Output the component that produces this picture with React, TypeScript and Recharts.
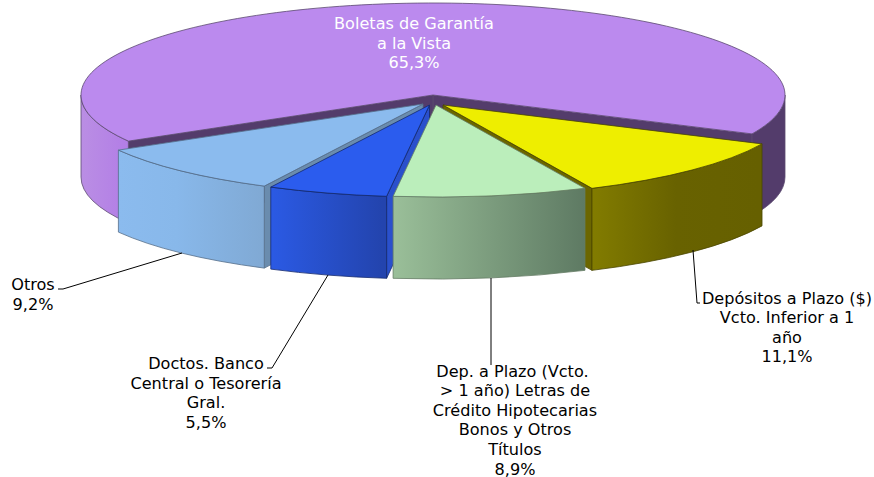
import { Pie, PieChart } from "recharts";

const CATEGORIES = [
  "Boletas de Garantía a la Vista",
  "Otros",
  "Doctos. Banco Central o Tesorería Gral.",
  "Dep. a Plazo (Vcto. > 1 año) Letras de Crédito Hipotecarias Bonos y Otros Títulos",
  "Depósitos a Plazo ($) Vcto. Inferior a 1 año",
];
const VALUES = [65.3, 9.2, 5.5, 8.9, 11.1];
const LABEL_LINES = [
  ["Boletas de Garantía", "a la Vista"],
  ["Otros"],
  ["Doctos. Banco", "Central o Tesorería", "Gral."],
  ["Dep. a Plazo (Vcto. ", "> 1 año) Letras de", "Crédito Hipotecarias", "Bonos y Otros", "Títulos"],
  ["Depósitos a Plazo ($)", "Vcto. Inferior a 1", "año"],
];

const pieData = CATEGORIES.map((name, i) => ({ name, value: VALUES[i], index: i }));

// look of each slice, same order as CATEGORIES
const TOP = ["#BB8AEE", "#8BBBEE", "#2B5CEE", "#BBEEBB", "#EEEE00"];
const INNER = ["#533C6B", "#6A8CAE", "#2A50CC", "#6E8C6E", "#6B6600"];
const EDGE = ["#5C4A70", "#566F8A", "#14296E", "#647C64", "#4A4600"];
const OUTER_STOPS = [
  [["0", "#BA8EE4"], ["0.06", "#B37FE6"], ["0.9", "#533C6B"], ["1", "#533C6B"]],
  [["0", "#8BBBEE"], ["0.4", "#88B8EA"], ["1", "#80A9D4"]],
  [["0", "#2B5AE4"], ["1", "#2344AE"]],
  [["0", "#9ABF99"], ["1", "#5E7A63"]],
  [["0", "#827C00"], ["0.5", "#686200"], ["1", "#666000"]],
];
const SHIFT = [[0, 0], [-10, 9], [-3.5, 10], [3, 10], [10, 10]];

// painter's order: slices in front go last
const DRAW_ORDER = [0, 4, 1, 2, 3];

const LABELS = [
  { x: 414, y: 29, fill: "#FFFFFF", leader: "" },
  { x: 33, y: 290, fill: "#000000", leader: "58,289 63,289 182,253" },
  { x: 206, y: 369, fill: "#000000", leader: "267,368 272,368 328,275" },
  { x: 515, y: 376.5, fill: "#000000", leader: "491,278 491,365" },
  { x: 787, y: 303.5, fill: "#000000", leader: "693,250 697,303 700,303" },
];

const W = 874;
const H = 477;
const CX = 433;
const CY = 95;
const RX = 352;
const TILT = 92 / 352;
const DEPTH = 82;
const START = -25;
const FONT = "'DejaVu Sans', Verdana, sans-serif";

function renderSlice(props: any, idx: number) {
  const { cx, cy, outerRadius, startAngle, endAngle } = props;
  const i = props.payload.index;
  if (i !== idx) return <g />;
  const [dx, dy] = SHIFT[i];
  const ox = cx + dx;
  const oy = cy + dy;
  const ry = outerRadius * TILT;
  const rad = (a: number) => (a * Math.PI) / 180;
  const px = (a: number) => ox + outerRadius * Math.cos(rad(a));
  const py = (a: number) => oy - ry * Math.sin(rad(a));
  const large = endAngle - startAngle > 180 ? 1 : 0;
  const edge = { stroke: EDGE[i], strokeWidth: 0.8, strokeLinejoin: "round" as const };

  // a cut face only shows when it turns toward the viewer
  const faces = [];
  if (Math.cos(rad(startAngle)) > 0) faces.push(startAngle);
  if (Math.cos(rad(endAngle)) < 0) faces.push(endAngle);
  const walls = faces.map((a: number) => (
    <path
      key={a}
      d={`M${ox},${oy} L${px(a)},${py(a)} L${px(a)},${py(a) + DEPTH} L${ox},${oy + DEPTH} Z`}
      fill={INNER[i]}
      {...edge}
    />
  ));

  // only the lower half of the rim faces the viewer
  const rims = [-180, 180].map((lo) => {
    const a0 = Math.max(startAngle, lo);
    const a1 = Math.min(endAngle, lo + 180);
    if (a1 <= a0) return null;
    return (
      <path
        key={lo}
        d={`M${px(a0)},${py(a0)} A${outerRadius},${ry} 0 0 0 ${px(a1)},${py(a1)} L${px(a1)},${py(a1) + DEPTH} A${outerRadius},${ry} 0 0 1 ${px(a0)},${py(a0) + DEPTH} Z`}
        fill={`url(#rim${i})`}
        {...edge}
      />
    );
  });

  const xs = [];
  for (let a = startAngle; a <= endAngle; a += 1) xs.push(px(a));
  const x0 = i === 0 ? ox - outerRadius : Math.min(...xs);
  const x1 = i === 0 ? ox + outerRadius : Math.max(...xs);

  return (
    <g>
      <defs>
        <linearGradient id={`rim${i}`} gradientUnits="userSpaceOnUse" x1={x0} x2={x1} y1={0} y2={0}>
          {OUTER_STOPS[i].map(([offset, color]) => (
            <stop key={offset} offset={offset} stopColor={color} />
          ))}
        </linearGradient>
      </defs>
      {walls}
      {rims}
      <path
        d={`M${ox},${oy} L${px(startAngle)},${py(startAngle)} A${outerRadius},${ry} 0 ${large} 0 ${px(endAngle)},${py(endAngle)} Z`}
        fill={TOP[i]}
        {...edge}
      />
    </g>
  );
}

function renderLabel(props: any) {
  const i = props.payload?.index ?? props.index;
  const { x, y, fill, leader } = LABELS[i];
  const lines = [...LABEL_LINES[i], `${VALUES[i].toFixed(1).replace(".", ",")}%`];
  return (
    <g key={i}>
      {leader && <polyline points={leader} fill="none" stroke="#000000" strokeWidth={1} />}
      <text
        x={x}
        y={y}
        fill={fill}
        textAnchor="middle"
        fontFamily={FONT}
        fontSize={16.1}
        style={{ whiteSpace: "pre" }}
      >
        {lines.map((line, n) => (
          <tspan key={n} x={x} dy={n === 0 ? 0 : 19.6}>
            {line}
          </tspan>
        ))}
      </text>
    </g>
  );
}

export default function App() {
  return (
    <div style={{ position: "absolute", left: 0, top: 0, width: W, height: H, background: "#fff" }}>
      <PieChart width={W} height={H} margin={{ top: 0, right: 0, bottom: 0, left: 0 }}>
        {DRAW_ORDER.map((idx) => (
          <Pie
            key={idx}
            data={pieData}
            dataKey="value"
            nameKey="name"
            cx={CX}
            cy={CY}
            innerRadius={0}
            outerRadius={RX}
            startAngle={START}
            endAngle={START + 360}
            stroke="none"
            isAnimationActive={false}
            shape={(p: any) => renderSlice(p, idx)}
          />
        ))}
        <Pie
          data={pieData}
          dataKey="value"
          cx={CX}
          cy={CY}
          innerRadius={0}
          outerRadius={RX}
          startAngle={START}
          endAngle={START + 360}
          isAnimationActive={false}
          shape={() => <g />}
          label={renderLabel}
          labelLine={false}
        />
      </PieChart>
    </div>
  );
}
